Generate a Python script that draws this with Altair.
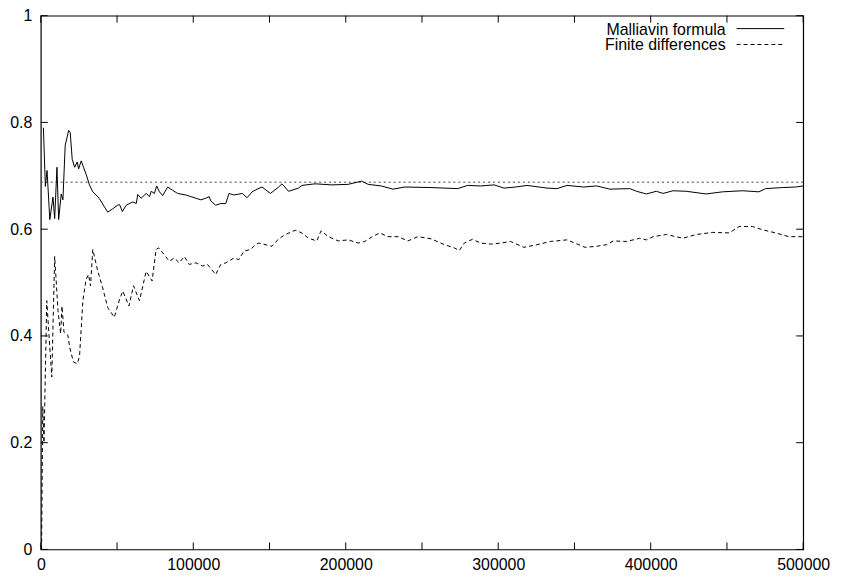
import altair as alt
import pandas as pd

# ---- data ----
mall_x = [1700, 3000, 4100, 5900, 8000, 9100, 10600, 11700, 13400, 14500, 16000, 18250, 19300,
          20600, 22200, 23900, 24800, 26500, 28000, 29700, 31900, 34100, 36300, 38500, 41700,
          43900, 47100, 50400, 51700, 53500, 56000, 60400, 62600, 63600, 65800, 69100, 71300,
          72400, 74500, 76000, 77800, 79900, 83200, 86400, 89700, 95200, 98400, 101700, 105000,
          108200, 110400, 111500, 114700, 118000, 121300, 123400, 126700, 132100, 135300, 138600,
          141900, 145100, 150600, 156000, 158200, 162500, 169000, 171200, 179900, 190800, 201600,
          210300, 214700, 223300, 231000, 238600, 255900, 273400, 279900, 288500, 297300, 303800,
          311400, 318900, 332000, 338500, 345100, 355900, 364600, 373300, 386300, 390700, 397200,
          403700, 408100, 414600, 423300, 436300, 447200, 460200, 471000, 475400, 486300, 495000,
          500000]
mall_y = [0.790, 0.680, 0.710, 0.618, 0.660, 0.620, 0.716, 0.618, 0.666, 0.655, 0.757, 0.785, 0.781,
          0.731, 0.716, 0.726, 0.713, 0.728, 0.716, 0.703, 0.683, 0.670, 0.664, 0.657, 0.642,
          0.632, 0.638, 0.645, 0.646, 0.633, 0.645, 0.651, 0.648, 0.665, 0.658, 0.667, 0.661,
          0.671, 0.667, 0.681, 0.670, 0.663, 0.679, 0.673, 0.667, 0.664, 0.661, 0.658, 0.655,
          0.658, 0.661, 0.653, 0.645, 0.648, 0.648, 0.667, 0.664, 0.667, 0.659, 0.670,
          0.675, 0.679, 0.667, 0.679, 0.685, 0.671, 0.677, 0.682, 0.685, 0.683, 0.684,
          0.690, 0.684, 0.681, 0.675, 0.679, 0.678, 0.676, 0.682, 0.681, 0.683, 0.677,
          0.679, 0.682, 0.677, 0.676, 0.682, 0.679, 0.681, 0.675, 0.676, 0.671, 0.666,
          0.671, 0.667, 0.672, 0.671, 0.666, 0.670, 0.672, 0.670, 0.676, 0.678, 0.679,
          0.681]

fd_x = [500, 1300, 2100, 3900, 7200, 9100, 11300, 13000, 13900, 15200, 17800, 18900, 21400, 23900,
        25400, 27600, 29700, 31300, 32600, 34100, 37400, 40600, 43900, 48200, 51700, 53800, 57800,
        60800, 64700, 69100, 73000, 75600, 77300, 81000, 84300, 87600, 90800, 94100, 97300, 101700,
        106000, 109300, 114700, 118000, 121300, 126700, 129900, 133200, 137600, 140800, 143000,
        151600, 156000, 160400, 166900, 171200, 175600, 181000, 183800, 188600, 195100, 201600,
        208200, 212500, 216800, 222300, 227700, 234200, 240800, 247300, 255900, 264700, 271200,
        274500, 277700, 283100, 288500, 295100, 301600, 308100, 316800, 325500, 334200, 345100,
        357000, 364600, 371200, 375500, 384200, 392800, 397200, 401600, 410200, 421100, 429800,
        440700, 451500, 458000, 466700, 473300, 481900, 490600, 500000]
fd_y = [0.0, 0.268, 0.200, 0.466, 0.323, 0.549, 0.447, 0.404, 0.456, 0.407, 0.401, 0.379, 0.351, 0.348,
        0.362, 0.466, 0.506, 0.515, 0.494, 0.562, 0.521, 0.490, 0.453, 0.435, 0.469, 0.484, 0.456,
        0.494, 0.466, 0.521, 0.503, 0.562, 0.565, 0.552, 0.540, 0.546, 0.537, 0.549, 0.534, 0.537,
        0.531, 0.534, 0.515, 0.534, 0.537, 0.546, 0.543, 0.559, 0.562, 0.571, 0.574,
        0.568, 0.582, 0.590, 0.598, 0.593, 0.583, 0.578, 0.597, 0.586, 0.578, 0.580,
        0.574, 0.577, 0.585, 0.593, 0.586, 0.586, 0.578, 0.586, 0.582, 0.571, 0.565,
        0.560, 0.574, 0.581, 0.574, 0.572, 0.574, 0.577, 0.566, 0.571, 0.577, 0.580,
        0.566, 0.568, 0.571, 0.578, 0.577, 0.583, 0.580, 0.586, 0.590, 0.583, 0.590,
        0.594, 0.593, 0.605, 0.605, 0.599, 0.593, 0.586, 0.586]

ref_value = [0.688]
x_ticks = [0, 50000, 100000, 150000, 200000, 250000, 300000, 350000, 400000, 450000, 500000]
x_labels = [0, 100000, 200000, 300000, 400000, 500000]
y_ticks = [0, 0.2, 0.4, 0.6, 0.8, 1]
legend_labels = ["Malliavin formula", "Finite differences"]

W, H = 767, 537
FONT = "Liberation Sans"
FS = 16

xs = alt.Scale(domain=[0, 500000], nice=False, zero=False)
ys = alt.Scale(domain=[0, 1], nice=False)

mall = pd.DataFrame({"x": mall_x, "y": mall_y})
fd = pd.DataFrame({"x": fd_x, "y": fd_y})
ref = pd.DataFrame({"y": ref_value})
xt = pd.DataFrame({"t": x_ticks})
yt = pd.DataFrame({"t": y_ticks})

xaxis = alt.Axis(values=x_labels, format="d", ticks=False, domain=False, grid=False, labelFlush=False,
                 labelFont=FONT, labelFontSize=FS, labelColor="black", labelPadding=7, title=None)
yaxis = alt.Axis(values=y_ticks, format="~g", ticks=False, domain=False, grid=False, labelFlush=False,
                 labelFont=FONT, labelFontSize=FS, labelColor="black", labelPadding=9, title=None)

base_axes = alt.Chart(yt).mark_point(opacity=0).encode(
    x=alt.X("t:Q", scale=xs, axis=xaxis),
    y=alt.Y("t:Q", scale=ys, axis=yaxis),
)

ref_line = alt.Chart(ref).mark_rule(color="#444444", strokeWidth=1, strokeDash=[2, 3]).encode(
    y=alt.Y("y:Q", scale=ys)
)

mall_line = alt.Chart(mall).mark_line(color="black", strokeWidth=1).encode(
    x=alt.X("x:Q", scale=xs), y=alt.Y("y:Q", scale=ys)
)
fd_line = alt.Chart(fd).mark_line(color="black", strokeWidth=1, strokeDash=[4, 3]).encode(
    x=alt.X("x:Q", scale=xs), y=alt.Y("y:Q", scale=ys)
)

TL = 7
bot_ticks = alt.Chart(xt).mark_rule(color="black").encode(
    x=alt.X("t:Q", scale=xs), y=alt.value(H), y2=alt.value(H - TL))
top_ticks = alt.Chart(xt).mark_rule(color="black").encode(
    x=alt.X("t:Q", scale=xs), y=alt.value(0), y2=alt.value(TL))
left_ticks = alt.Chart(yt).mark_rule(color="black").encode(
    y=alt.Y("t:Q", scale=ys), x=alt.value(0), x2=alt.value(TL))
right_ticks = alt.Chart(yt).mark_rule(color="black").encode(
    y=alt.Y("t:Q", scale=ys), x=alt.value(W), x2=alt.value(W - TL))

leg_text1 = alt.Chart(pd.DataFrame({"l": [legend_labels[0]]})).mark_text(
    align="right", baseline="middle", font=FONT, fontSize=FS, color="black").encode(
    text="l:N", x=alt.value(689), y=alt.value(14))
leg_text2 = alt.Chart(pd.DataFrame({"l": [legend_labels[1]]})).mark_text(
    align="right", baseline="middle", font=FONT, fontSize=FS, color="black").encode(
    text="l:N", x=alt.value(689), y=alt.value(30))
leg_line1 = alt.Chart(pd.DataFrame({"l": [0]})).mark_rule(color="black", strokeWidth=1).encode(
    x=alt.value(700), x2=alt.value(748), y=alt.value(13))
leg_line2 = alt.Chart(pd.DataFrame({"l": [0]})).mark_rule(color="black", strokeWidth=1, strokeDash=[4, 3]).encode(
    x=alt.value(700), x2=alt.value(748), y=alt.value(29))

chart = alt.layer(
    base_axes, ref_line, fd_line, mall_line,
    bot_ticks, top_ticks, left_ticks, right_ticks,
    leg_text1, leg_text2, leg_line1, leg_line2,
).properties(
    width=W, height=H,
    autosize=alt.AutoSizeParams(type="none"),
    padding={"left": 33, "top": 6, "right": 30, "bottom": 28},
    background="white",
).configure_view(stroke="black", strokeWidth=1.2)

chart.save("out.html", embed_options={"renderer": "svg", "actions": False})
